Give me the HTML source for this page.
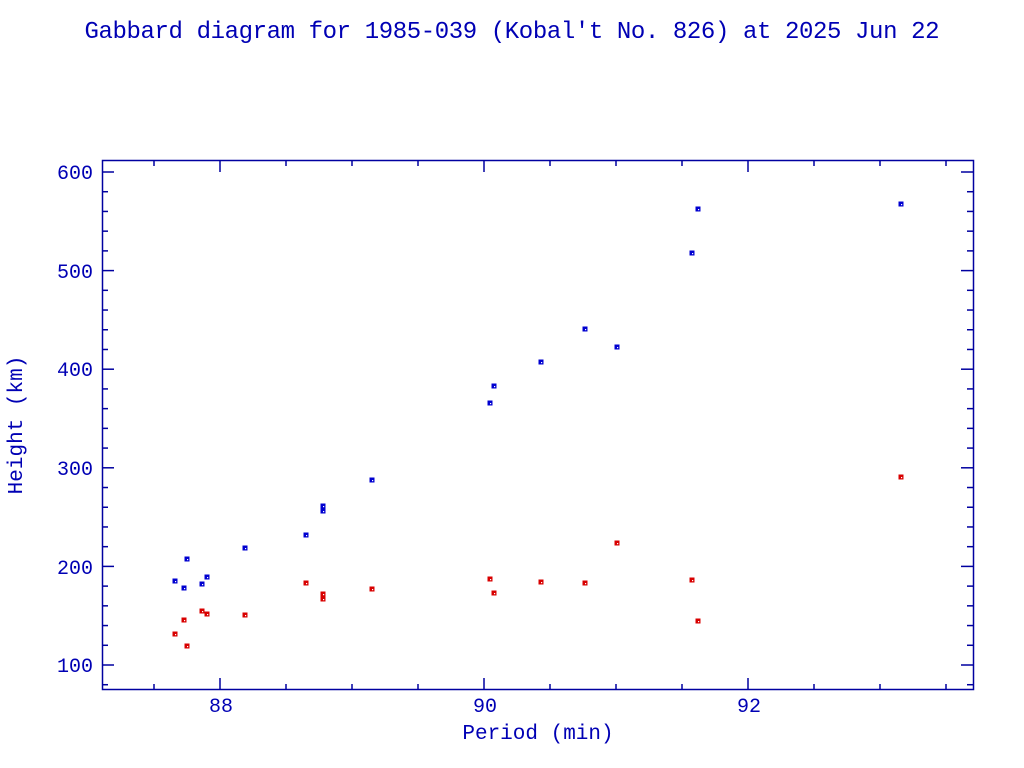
<!DOCTYPE html>
<html><head><style>body{margin:0;background:#fff}svg{display:block}</style></head><body>
<svg width="1024" height="768" xmlns="http://www.w3.org/2000/svg" font-family="Liberation Mono, monospace" fill="#0000b4">
<text x="512" y="38" font-size="24" text-anchor="middle" textLength="855">Gabbard diagram for 1985-039 (Kobal't No. 826) at 2025 Jun 22</text>
<rect x="102.5" y="160.5" width="871" height="529" fill="none" stroke="#0000a0" stroke-width="1.5"/>
<g stroke="#0000a0" stroke-width="1.5" id="t"></g>
<g font-size="20" text-anchor="end">
<text x="93" y="179">600</text><text x="93" y="278">500</text><text x="93" y="376">400</text><text x="93" y="475">300</text><text x="93" y="574">200</text><text x="93" y="672">100</text>
</g>
<g font-size="20" text-anchor="middle">
<text x="221" y="712">88</text><text x="485" y="712">90</text><text x="749" y="712">92</text>
</g>
<text x="538" y="739" font-size="21" text-anchor="middle">Period (min)</text>
<text transform="translate(22,425) rotate(-90)" font-size="21" text-anchor="middle">Height (km)</text>
<g id="p"></g>
</svg>
<script>
var t=document.getElementById('t'),s='';
for(var k=-1;k<=17;k++){var x=220+66*k;if(x<=103||x>=973)continue;var L=(k%4==0)?12:6;
s+='<line x1="'+x+'" y1="690" x2="'+x+'" y2="'+(690-L)+'"/><line x1="'+x+'" y1="160" x2="'+x+'" y2="'+(160+L)+'"/>';}
for(var v=80;v<=620;v+=20){var y=665-(v-100)*0.986;if(y<=161||y>=689)continue;var L=(v%100==0)?12:6;
s+='<line x1="102" y1="'+y+'" x2="'+(102+L)+'" y2="'+y+'"/><line x1="973" y1="'+y+'" x2="'+(973-L)+'" y2="'+y+'"/>';}
t.innerHTML=s;
var B=[[175,581],[184,588],[187,559],[202,584],[207,577],[245,548],[306,535],[323,506],[323,511],[372,480],[490,403],[494,386],[541,362],[585,329],[617,347],[692,253],[698,209],[901,204]];
var R=[[175,634],[184,620],[187,646],[202,611],[207,614],[245,615],[306,583],[323,594],[323,599],[372,589],[490,579],[494,593],[541,582],[585,583],[617,543],[692,580],[698,621],[901,477]];
var p='';
function m(a,c){a.forEach(function(q){p+='<rect x="'+(q[0]-2.5)+'" y="'+(q[1]-2.5)+'" width="5" height="5" fill="'+c+'"/><rect x="'+(q[0])+'" y="'+(q[1])+'" width="1.2" height="1.2" fill="#fff"/>';});}
m(B,'#0000d0');m(R,'#d80000');
document.getElementById('p').innerHTML=p;
</script>
</body></html>
